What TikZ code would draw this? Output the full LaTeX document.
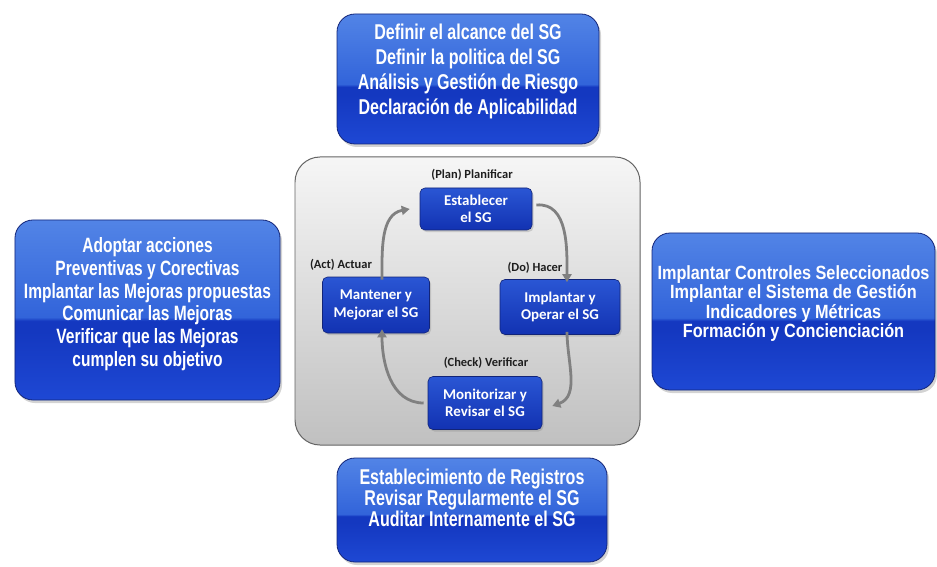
\documentclass[tikz,border=0pt]{standalone}
\usepackage{fontspec}
\setmainfont{Carlito}
\newfontfamily\boxfont[FakeStretch=0.75]{Liberation Sans}
\newfontfamily\wideboxfont[FakeStretch=0.85]{Liberation Sans}
\usetikzlibrary{arrows.meta,shadows}

\definecolor{blueTop}{RGB}{82,132,230}
\definecolor{blueHigh}{RGB}{50,100,218}
\definecolor{blueMid}{RGB}{20,56,192}
\definecolor{blueBot}{RGB}{30,72,212}
\definecolor{blueEdge}{RGB}{18,36,120}
\definecolor{innerTop}{RGB}{42,86,212}
\definecolor{innerBot}{RGB}{18,50,178}
\definecolor{panelTop}{RGB}{246,246,246}
\definecolor{panelBot}{RGB}{192,192,192}
\definecolor{panelEdge}{RGB}{100,100,100}
\definecolor{arrowGray}{RGB}{128,128,128}
\definecolor{labelText}{RGB}{30,30,30}

\pgfdeclareverticalshading{glossy}{100bp}{color(0bp)=(blueBot); color(25bp)=(blueBot); color(44bp)=(blueMid); color(47bp)=(blueMid); color(48bp)=(blueHigh); color(75bp)=(blueTop); color(100bp)=(blueTop)}

\tikzset{
  areabox/.style={draw=blueEdge, line width=0.8pt, rounded corners=18bp,
    shading=glossy, text=white, align=center, inner sep=0pt,
    drop shadow={opacity=0.35, shadow xshift=2bp, shadow yshift=-3bp}},
  phasebox/.style={draw=blueEdge, line width=0.6pt, rounded corners=5bp,
    top color=innerTop, bottom color=innerBot, text=white, align=center,
    inner sep=0pt, font=\bfseries\fontsize{15}{17.5}\selectfont,
    drop shadow={opacity=0.3, shadow xshift=1.5bp, shadow yshift=-2bp}},
  phaselabel/.style={text=labelText, font=\bfseries\fontsize{12.5}{13}\selectfont},
  cyclearrow/.style={draw=arrowGray, line width=2.8pt,
    -{Triangle[length=8bp,width=9bp]}}
}

\begin{document}
\begin{tikzpicture}[x=1bp,y=-1bp]
\useasboundingbox (0,0) rectangle (937,567);

% panel with the cycle
\node[draw=panelEdge, line width=1pt, rounded corners=25bp,
      top color=panelTop, bottom color=panelBot,
      minimum width=345bp, minimum height=288bp] (panel) at (467.5,301) {};

% outer areas
\node[areabox, minimum width=262bp, minimum height=130bp, text depth=20bp,
      font=\boxfont\bfseries\fontsize{21.5}{25}\selectfont] (plan) at (468,79)
  {Definir el alcance del SG\\Definir la politica del SG\\An\'alisis y Gesti\'on de Riesgo\\Declaraci\'on de Aplicabilidad};
\node[areabox, minimum width=265bp, minimum height=180bp, text depth=16bp,
      font=\boxfont\bfseries\fontsize{20.8}{23}\selectfont] (act) at (147.5,310)
  {Adoptar acciones\\Preventivas y Corectivas\\Implantar las Mejoras propuestas\\Comunicar las Mejoras\\Verificar que las Mejoras\\cumplen su objetivo};
\node[areabox, minimum width=283bp, minimum height=157bp, text depth=20bp,
      font=\wideboxfont\bfseries\fontsize{19.2}{19.5}\selectfont] (do) at (793.5,311.5)
  {Implantar Controles Seleccionados\\Implantar el Sistema de Gesti\'on\\Indicadores y M\'etricas\\Formaci\'on y Concienciaci\'on};
\node[areabox, minimum width=270bp, minimum height=104bp, text depth=24bp,
      font=\boxfont\bfseries\fontsize{21.5}{20}\selectfont] (check) at (472,510)
  {Establecimiento de Registros\\Revisar Regularmente el SG\\Auditar Internamente el SG};

% phases
\node[phasebox, minimum width=112bp, minimum height=42bp] (est) at (476,209) {Establecer\\el SG};
\node[phasebox, minimum width=120bp, minimum height=55bp] (impl) at (560,307) {Implantar y\\Operar el SG};
\node[phasebox, minimum width=114bp, minimum height=53bp] (mon) at (485,403) {Monitorizar y\\Revisar el SG};
\node[phasebox, minimum width=107bp, minimum height=56bp] (mant) at (376,305) {Mantener y\\Mejorar el SG};

\node[phaselabel] (lplan) at (472,175) {(Plan) Planificar};
\node[phaselabel] (ldo) at (535,268) {(Do) Hacer};
\node[phaselabel] (lcheck) at (486,363) {(Check) Verificar};
\node[phaselabel] (lact) at (341,265) {(Act) Actuar};

% cycle
\draw[cyclearrow] ([xshift=4bp,yshift=4bp]est.east) to[out=5,in=90] ([xshift=7bp,yshift=-3bp]impl.north);
\draw[cyclearrow] ([xshift=7bp,yshift=3bp]impl.south) to[out=-90,in=20] ([xshift=10bp,yshift=-3bp]mon.east);
\draw[cyclearrow] ([xshift=-4bp]mon.west) to[out=180,in=-90] ([xshift=6bp,yshift=4bp]mant.south);
\draw[cyclearrow] ([xshift=6bp,yshift=-3bp]mant.north) to[out=90,in=190] ([xshift=-10bp]est.west);
\end{tikzpicture}
\end{document}
